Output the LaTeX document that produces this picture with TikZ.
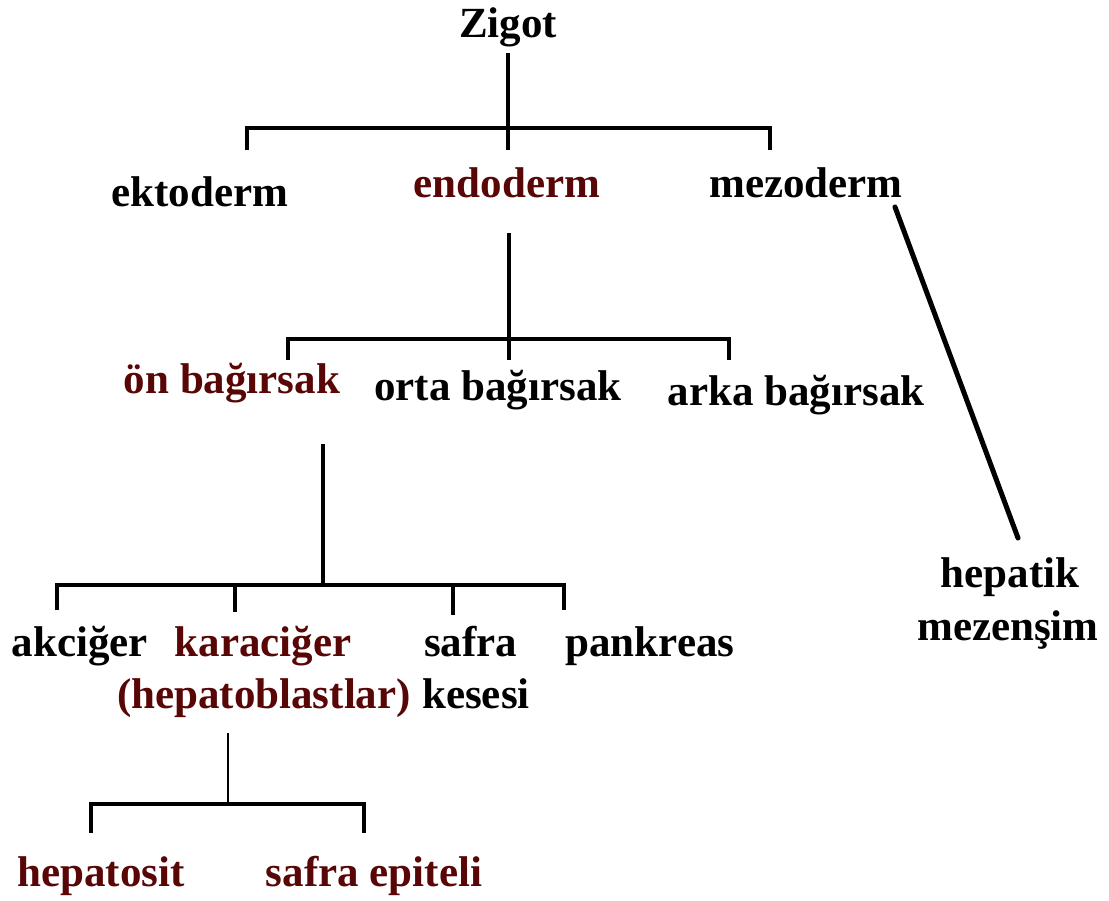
\documentclass[tikz,border=0pt]{standalone}
\usepackage{fontspec}
\setmainfont{Liberation Serif}
\definecolor{maroon}{RGB}{88,6,6}
\begin{document}
\begin{tikzpicture}[x=1pt,y=-1pt,
  lbl/.style={anchor=base,inner sep=0pt,font=\fontsize{43}{50}\selectfont\bfseries,text=black},
  red/.style={lbl,text=maroon},
  ln/.style={line width=3.2pt,line join=miter,line cap=butt},
  thin/.style={line width=2pt}]
\useasboundingbox (0,0) rectangle (1109,901);
\fill[white] (0,0) rectangle (1109,901);
% nodes
\node[lbl] (zigot) at (508,38) {Zigot};
\node[lbl] (ekto) at (200,207) {ektoderm};
\node[red] (endo) at (507,198) {endoderm};
\node[lbl] (mezo) at (806,198) {mezoderm};
\node[red] (on) at (232,393) {ön bağırsak};
\node[lbl] (orta) at (498,400) {orta bağırsak};
\node[lbl] (arka) at (796,406) {arka bağırsak};
\node[lbl] (hep1) at (1010,587) {hepatik};
\node[lbl] (hep2) at (1008,640) {mezenşim};
\node[lbl] (akc) at (80,656) {akciğer};
\node[red] (kara) at (263,656) {karaciğer};
\node[red] (hblast) at (264,708) {(hepatoblastlar)};
\node[lbl,anchor=base west] (safra) at (424,656) {safra};
\node[lbl,anchor=base west] (kese) at (422,708) {kesesi};
\node[lbl] (pank) at (650,656) {pankreas};
\node[red] (hepato) at (101,886) {hepatosit};
\node[red] (sepi) at (374,886) {safra epiteli};
% coordinates
\coordinate (zA) at (508,53);
\coordinate (zB) at (508,150);
\coordinate (zL) at (247,128);
\coordinate (zR) at (770,128);
\coordinate (zLb) at (247,150);
\coordinate (zRb) at (770,150);
\coordinate (eA) at (509,233);
\coordinate (eB) at (509,360);
\coordinate (eL) at (288,339);
\coordinate (eR) at (729,339);
\coordinate (eLb) at (288,360);
\coordinate (eRb) at (729,360);
\coordinate (oA) at (323,444);
\coordinate (oB) at (323,585);
\coordinate (oL) at (57,585);
\coordinate (oR) at (564,585);
\coordinate (oLb) at (57,610);
\coordinate (oRb) at (564,610);
\coordinate (o2t) at (235,584);
\coordinate (o2b) at (235,612);
\coordinate (o3t) at (453,585);
\coordinate (o3b) at (453,615);
\coordinate (kA) at (228,733);
\coordinate (kB) at (228,804);
\coordinate (kL) at (91,804);
\coordinate (kR) at (364,804);
\coordinate (kLb) at (91,833);
\coordinate (kRb) at (364,833);
\coordinate (mA) at (895,207);
\coordinate (mB) at (1018,538);
% connectors
\draw[ln,line width=3.6pt] (zA) -- (zB);
\draw[ln] (zLb) -- (zL) -- (zR) -- (zRb);
\draw[ln,line width=3.6pt] (eA) -- (eB);
\draw[ln] (eLb) -- (eL) -- (eR) -- (eRb);
\draw[ln,line width=4pt] (oA) -- (oB);
\draw[ln] (oLb) -- (oL) -- (oR) -- (oRb);
\draw[ln] (o2t) -- (o2b);
\draw[ln] (o3t) -- (o3b);
\draw[thin] (kA) -- (kB);
\draw[ln,line width=4.2pt] (kLb) -- (kL) -- (kR) -- (kRb);
\draw[line width=5pt,line cap=round] (mA) -- (mB);
\end{tikzpicture}
\end{document}
